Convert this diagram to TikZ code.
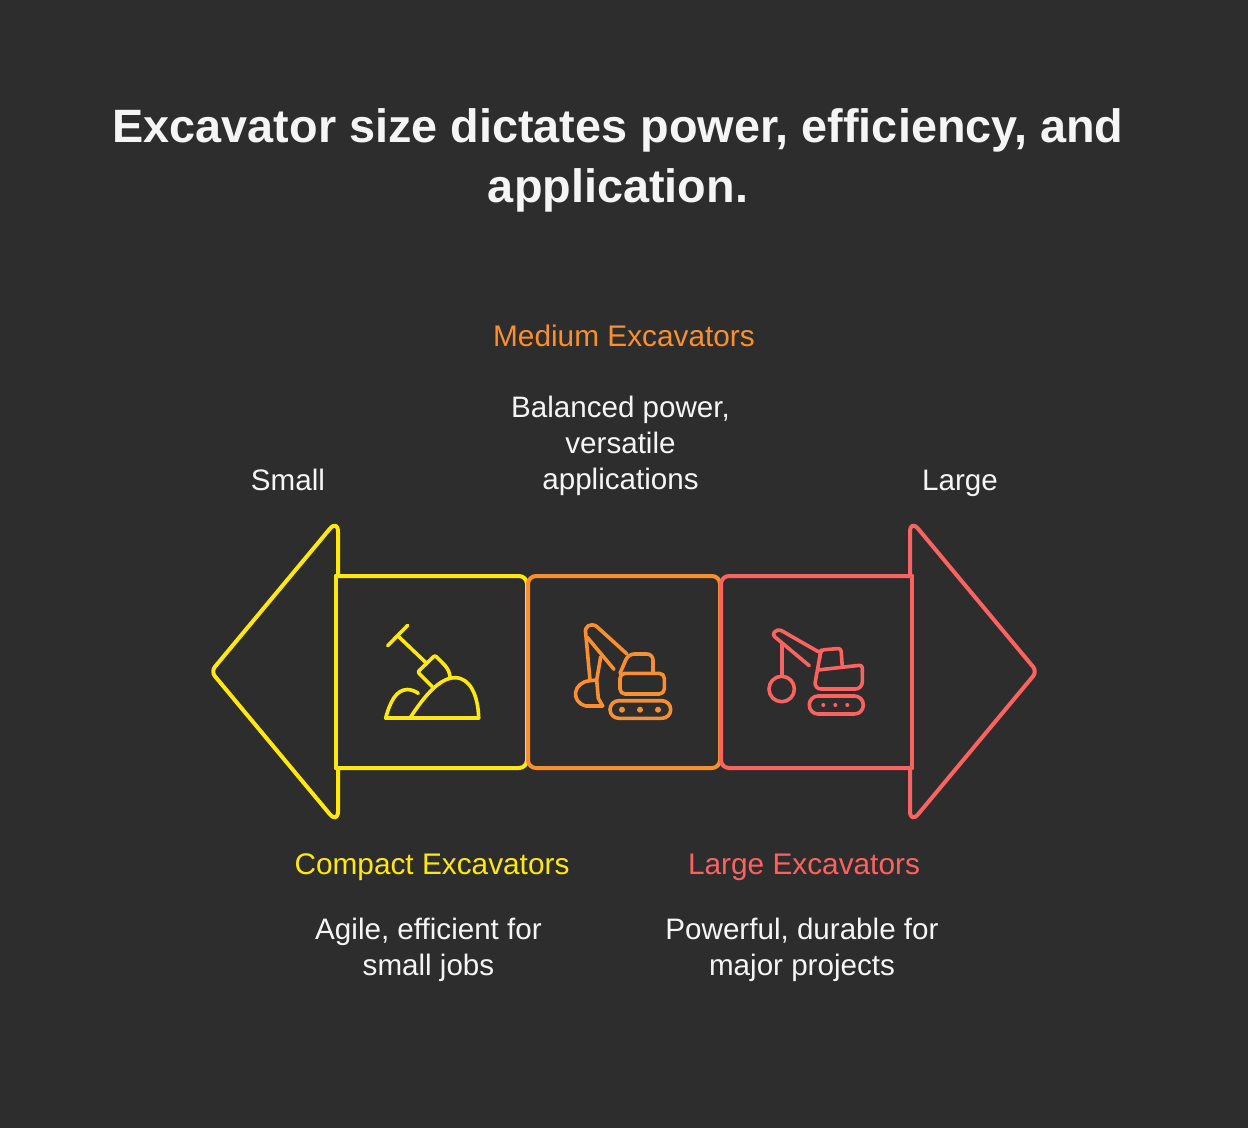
\documentclass[tikz,border=0pt]{standalone}
\usepackage{fontspec}
\setmainfont{Liberation Sans}
\definecolor{bgdark}{HTML}{2D2D2D}
\definecolor{txtwhite}{HTML}{F5F5F5}
\definecolor{cyellow}{HTML}{FFE80F}
\definecolor{corange}{HTML}{F98F2E}
\definecolor{cred}{HTML}{FB6361}
\tikzset{
	titletxt/.style={text=txtwhite, align=center, font=\fontsize{46.8}{60}\selectfont\bfseries},
	bodytxt/.style={text=txtwhite, align=center, font=\fontsize{29.6}{36}\selectfont},
	headtxt/.style={anchor=base, align=center, font=\fontsize{29.8}{36}\selectfont},
	outline/.style={line width=4pt, line join=round, line cap=round},
	iconline/.style={line width=3.6pt, line join=round, line cap=round}
}
\begin{document}
\begin{tikzpicture}[x=1pt, y=-1pt]
	\fill[bgdark] (0,0) rectangle (1248,1128);
	\useasboundingbox (0,0) rectangle (1248,1128);
	% titles and labels
	\node[titletxt] (title) at (618,160) {Excavator size dictates power, efficiency, and\\application.};
	\node[headtxt, text=corange] (medhead) at (624,346) {Medium Excavators};
	\node[bodytxt] (medbody) at (620.5,446) {Balanced power,\\versatile\\applications};
	\node[bodytxt, anchor=base] (small) at (288,490) {Small};
	\node[bodytxt, anchor=base] (large) at (960,490) {Large};
	\node[headtxt, text=cyellow] (comphead) at (432,874) {Compact Excavators};
	\node[bodytxt] (compbody) at (428.5,950) {Agile, efficient for\\small jobs};
	\node[headtxt, text=cred] (larghead) at (804,874) {Large Excavators};
	\node[bodytxt] (largbody) at (802,950) {Powerful, durable for\\major projects};
	% arrow ends
	\draw[outline, cyellow] (338,576)[rounded corners=13pt]--(338,519)[rounded corners=6pt]--(211,671.5)[rounded corners=13pt]--(338,824)[sharp corners]--(338,768);
	\draw[outline, cred] (910,576)[rounded corners=13pt]--(910,519)[rounded corners=6pt]--(1037,671.5)[rounded corners=13pt]--(910,824)[sharp corners]--(910,768);
	% three boxes
	\draw[outline, cyellow, rounded corners=8pt] (336,576)--(527,576)--(527,768)--(336,768);
	\draw[outline, cyellow] (336,576)--(336,768);
	\draw[outline, corange, rounded corners=8pt] (528,576) rectangle (720,768);
	\draw[outline, cred, rounded corners=8pt] (912,576)--(721,576)--(721,768)--(912,768);
	\draw[outline, cred] (912,576)--(912,768);
	% shovel icon
	\begin{scope}[iconline, cyellow]
		\draw (407.7,625.3)--(387.7,645.7);
		\draw (398,636)--(426,662.7);
		\draw[rounded corners=2pt] (432.3,686.7)--(417.7,672)--(435,655.3)--(445,665.5);
		\draw (445,665.5)..controls (448,669) and (450,673) .. (450,678);
		\draw (385.7,718)--(478.7,718);
		\draw (410,718)..controls (425,695) and (440,677.7) .. (455,677.7)..controls (470,677.7) and (478,695) .. (478.7,718);
		\draw (385.7,718)..controls (390,702) and (396,690) .. (407,689.5)..controls (411,689.5) and (415,691) .. (418.3,693.3);
	\end{scope}
	% medium excavator icon
	\begin{scope}[iconline, corange]
		\draw (627,654)--(596.7,626.5)..controls (591,622.5) and (584,626) .. (585.7,633.3)--(590,680);
		\draw (587,637)--(614,669.3);
		\draw (600.7,656.7)--(596.7,680)--(598.3,698.3)--(602.7,706)--(586,706)..controls (570,702) and (573,682) .. (590,680.7)--(596.7,680);
		\draw[rounded corners=6pt] (620,673.3)--(628.3,654)--(653,654)--(653,673.3);
		\draw[rounded corners=5pt] (620,673.3) rectangle (664.3,694);
		\draw[rounded corners=8.8pt] (610,700.7) rectangle (670.7,718.3);
		\foreach \x in{622,640,658} \fill (\x,709.7) circle(3pt);
	\end{scope}
	% large excavator icon
	\begin{scope}[iconline, cred]
		\draw (818.3,651.7)--(781.7,630.7)..controls (775,628) and (771,635) .. (775,637)--(809.3,665.7);
		\draw (781.7,644.3)--(781.7,676.3);
		\draw (781.7,689) circle(12.7pt);
		\draw[rounded corners=3pt] (817.7,670)--(862.3,665)--(862.3,672);
		\draw[rounded corners=3pt] (819.5,659)--(821,650)--(841,648.3)--(842.3,667);
		\draw[rounded corners=7pt] (821,650)--(814,689)--(862.3,689)--(862.3,670);
		\draw[rounded corners=8.8pt] (809.3,696) rectangle (863.3,714);
		\foreach \x in{823.3,835.3,847.3} \fill (\x,705) circle(2pt);
	\end{scope}
\end{tikzpicture}
\end{document}
